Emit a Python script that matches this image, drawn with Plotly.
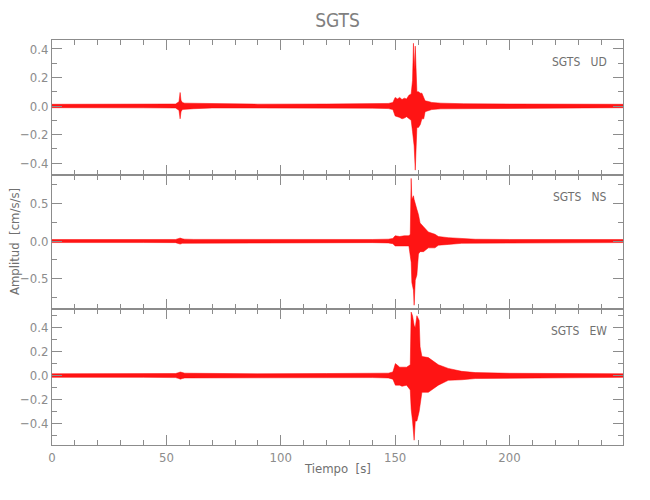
import plotly.graph_objects as go
from plotly.subplots import make_subplots

# ---------------- data (envelopes) ----------------
ud_t = [0, 20, 40, 54, 55.5, 56, 56.4, 57, 58, 62, 70, 90, 120, 140, 147, 149, 150,
        151, 152, 153, 154, 155, 156, 157, 157.6, 158.0, 158.3, 158.8, 159.1, 159.5,
        160.2, 161, 161.7, 162.5, 163.1, 164.5, 166, 170, 175, 180, 200, 230, 250]
ud_up = [0.012, 0.013, 0.012, 0.014, 0.03, 0.095, 0.04, 0.024, 0.02, 0.019, 0.014,
         0.013, 0.014, 0.015, 0.018, 0.025, 0.06, 0.05, 0.06, 0.045, 0.055, 0.05, 0.075,
         0.085, 0.18, 0.44, 0.25, 0.42, 0.2, 0.1, 0.1, 0.09, 0.09, 0.05, 0.036, 0.032,
         0.025, 0.02, 0.018, 0.016, 0.014, 0.013, 0.012]
ud_lo = [-0.012, -0.013, -0.013, -0.014, -0.03, -0.09, -0.04, -0.024, -0.02, -0.019,
         -0.014, -0.013, -0.014, -0.015, -0.018, -0.025, -0.07, -0.075, -0.08, -0.09,
         -0.085, -0.075, -0.09, -0.1, -0.18, -0.22, -0.28, -0.45, -0.4, -0.15, -0.15,
         -0.13, -0.09, -0.09, -0.04, -0.034, -0.025, -0.02, -0.018, -0.016, -0.014,
         -0.013, -0.012]

ns_t = [0, 20, 40, 54, 55.5, 56, 57, 58, 62, 70, 90, 120, 140, 147, 149, 150, 152,
        154, 156, 156.6, 157.0, 157.3, 158.0, 158.3, 158.8, 159.5, 160.2, 160.9,
        162.4, 164.5, 167.4, 168.9, 173.2, 179.1, 185, 200, 230, 250]
ns_up = [0.02, 0.021, 0.02, 0.021, 0.035, 0.04, 0.03, 0.025, 0.022, 0.021, 0.02,
         0.021, 0.021, 0.025, 0.035, 0.07, 0.06, 0.07, 0.07, 0.09, 0.83, 0.55, 0.6,
         0.55, 0.48, 0.42, 0.35, 0.24, 0.19, 0.12, 0.09, 0.06, 0.045, 0.03, 0.024,
         0.021, 0.02, 0.02]
ns_lo = [-0.02, -0.021, -0.02, -0.021, -0.035, -0.04, -0.03, -0.025, -0.022, -0.021,
         -0.02, -0.021, -0.021, -0.025, -0.035, -0.065, -0.06, -0.065, -0.065, -0.2,
         -0.28, -0.55, -0.65, -0.85, -0.52, -0.45, -0.17, -0.14, -0.14, -0.09, -0.09,
         -0.055, -0.045, -0.03, -0.024, -0.021, -0.02, -0.02]

ew_t = [0, 20, 40, 54, 55.5, 56, 57, 58, 62, 70, 90, 120, 140, 147, 149, 150.1, 152,
        153, 155, 156.6, 157.0, 157.6, 158.0, 158.3, 158.8, 159.5, 160.5, 160.9,
        161.7, 164.5, 168.9, 173.2, 179.1, 185, 200, 230, 250]
ew_up = [0.015, 0.017, 0.015, 0.017, 0.025, 0.03, 0.025, 0.02, 0.019, 0.017, 0.015,
         0.017, 0.017, 0.02, 0.03, 0.1, 0.07, 0.07, 0.07, 0.09, 0.53, 0.5, 0.42,
         0.42, 0.4, 0.5, 0.46, 0.24, 0.16, 0.15, 0.09, 0.06, 0.035, 0.025, 0.019,
         0.017, 0.015]
ew_lo = [-0.015, -0.017, -0.015, -0.017, -0.025, -0.03, -0.025, -0.02, -0.019, -0.017,
         -0.015, -0.017, -0.017, -0.02, -0.03, -0.08, -0.08, -0.09, -0.08, -0.12,
         -0.28, -0.38, -0.42, -0.54, -0.38, -0.38, -0.3, -0.27, -0.14, -0.14,
         -0.08, -0.04, -0.035, -0.025, -0.019, -0.017, -0.015]

components = ["UD", "NS", "EW"]
station = "SGTS"
x_ticks = [0, 50, 100, 150, 200]
y_ranges = [[-0.484, 0.463], [-0.90, 0.875], [-0.58, 0.556]]
y_ticks = [[-0.4, -0.2, 0.0, 0.2, 0.4], [-0.5, 0.0, 0.5], [-0.4, -0.2, 0.0, 0.2, 0.4]]
y_minor = [0.1, 0.25, 0.1]

series = [(ud_t, ud_up, ud_lo), (ns_t, ns_up, ns_lo), (ew_t, ew_up, ew_lo)]

# ---------------- figure ----------------
GRAY = "#8c8c8c"
FONT = "Liberation Sans Narrow, DejaVu Sans Condensed, Liberation Sans, sans-serif"

fig = make_subplots(rows=3, cols=1, shared_xaxes=True, vertical_spacing=0,
                    row_heights=[135, 134, 136])

for i, (t, up, lo) in enumerate(series):
    xs = list(t) + list(t)[::-1]
    ys = list(up) + list(lo)[::-1]
    fig.add_trace(go.Scatter(x=xs, y=ys, mode="lines", fill="toself",
                             fillcolor="rgba(255,0,0,0.92)",
                             line=dict(color="#ff0000", width=0.5),
                             hoverinfo="skip", showlegend=False),
                  row=i + 1, col=1)

axis_common = dict(showline=True, linecolor=GRAY, linewidth=1, mirror="ticks",
                   ticks="inside", ticklen=10, tickcolor=GRAY, tickwidth=1,
                   showgrid=False, zeroline=False,
                   tickfont=dict(family=FONT, size=13, color=GRAY))

for i in range(3):
    fig.update_xaxes(range=[0, 249.6], tickvals=x_ticks,
                     minor=dict(ticks="inside", ticklen=5, dtick=10, tick0=0,
                                tickcolor=GRAY, showgrid=False),
                     row=i + 1, col=1, **axis_common)
    fig.update_yaxes(range=y_ranges[i], tickvals=y_ticks[i], tickformat=".1f",
                     minor=dict(ticks="inside", ticklen=5, dtick=y_minor[i], tick0=0,
                                tickcolor=GRAY, showgrid=False),
                     row=i + 1, col=1, **axis_common)

# panel labels
for i, comp in enumerate(components):
    yref = "y domain" if i == 0 else f"y{i+1} domain"
    fig.add_annotation(text=f"{station}\u00a0\u00a0\u00a0{comp}", xref="paper", yref=yref,
                       x=0.975, y=1, yshift=-22, xanchor="right", yanchor="middle",
                       showarrow=False, font=dict(family=FONT, size=12, color="#707070"))

fig.add_annotation(text="Amplitud  [cm/s/s]", xref="paper", yref="paper", x=0, y=0.501,
                   xshift=-38, textangle=-90, showarrow=False, xanchor="center",
                   yanchor="middle", font=dict(family=FONT, size=13, color="#707070"))
fig.add_annotation(text="Tiempo  [s]", xref="paper", yref="paper", x=0.5, y=0,
                   yshift=-23, showarrow=False, xanchor="center", yanchor="middle",
                   font=dict(family=FONT, size=13, color="#707070"))

fig.update_layout(
    width=650, height=500,
    margin=dict(l=40, r=35, t=32, b=63),
    paper_bgcolor="white", plot_bgcolor="white",
    title=dict(text=station, x=0.5, xref="paper", y=0.976, yref="container",
               xanchor="center", yanchor="middle",
               font=dict(family=FONT, size=19, color="#808080")),
)

fig.write_html("out.html")
